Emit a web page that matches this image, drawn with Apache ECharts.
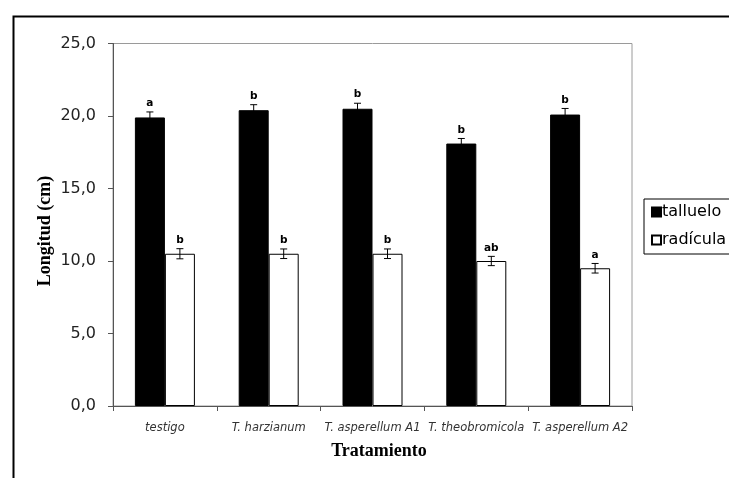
<!DOCTYPE html>
<html>
<head>
<meta charset="utf-8">
<script src="https://cdn.jsdelivr.net/npm/echarts@6/dist/echarts.min.js"></script>
<style>html,body{margin:0;padding:0;background:#fff;}#c{width:729px;height:478px;}</style>
</head>
<body>
<div id="c"></div>
<script>
var categories = ['testigo', 'T. harzianum', 'T. asperellum A1', 'T. theobromicola', 'T. asperellum A2'];
var tallueloValues = [19.9, 20.4, 20.5, 18.1, 20.1];
var tallueloErrors = [0.38, 0.38, 0.38, 0.35, 0.42];
var tallueloLetters = ['a', 'b', 'b', 'b', 'b'];
var radiculaValues = [10.5, 10.5, 10.5, 10.0, 9.5];
var radiculaErrors = [0.35, 0.33, 0.33, 0.32, 0.33];
var radiculaLetters = ['b', 'b', 'b', 'ab', 'a'];
var yTicks = [0, 5, 10, 15, 20, 25];

var SANS = 'DejaVu Sans';
var BAR_W = 30;

function errData(vals, errs, letters) {
  return vals.map(function (v, i) { return [i, v, errs[i], letters[i]]; });
}
function makeErr(offsetSign) {
  return function (params, api) {
    var i = api.value(0), v = api.value(1), e = api.value(2);
    var c = api.coord([i, v]);
    var x = c[0] + offsetSign * BAR_W / 2;
    var hi = api.coord([i, v + e])[1];
    var lo = api.coord([i, v - e])[1];
    var cap = 3.5;
    var st = { stroke: '#000', lineWidth: 1 };
    return {
      type: 'group',
      children: [
        { type: 'line', shape: { x1: x, y1: hi, x2: x, y2: lo }, style: st },
        { type: 'line', shape: { x1: x - cap, y1: hi, x2: x + cap, y2: hi }, style: st },
        { type: 'line', shape: { x1: x - cap, y1: lo, x2: x + cap, y2: lo }, style: st },
        { type: 'text', style: { x: x, y: hi - 3, text: api.value(3), textAlign: 'center', textVerticalAlign: 'bottom', font: 'bold 10.5px "DejaVu Sans"', fill: '#000' } }
      ]
    };
  };
}

var chart = echarts.init(document.getElementById('c'), null, { renderer: 'canvas' });
chart.setOption({
  animation: false,
  backgroundColor: '#fff',
  grid: { left: 113, right: 97, top: 43.5, bottom: 72, show: true, borderColor: '#9a9a9a', borderWidth: 1, backgroundColor: 'transparent' },
  legend: {
    orient: 'vertical', left: 644, top: 199,
    itemWidth: 9, itemHeight: 9, itemGap: 12,
    padding: [5, 40, 6, 7],
    borderColor: '#000', borderWidth: 1, borderRadius: 0,
    icon: 'rect',
    textStyle: { fontFamily: SANS, fontSize: 16, color: '#000', padding: [0, 0, 0, -4] },
    data: ['talluelo', 'radícula']
  },
  xAxis: {
    type: 'category', data: categories,
    axisLine: { lineStyle: { color: '#555', width: 1 } },
    axisTick: { show: true, length: 5, inside: false, lineStyle: { color: '#555' } },
    axisLabel: { fontFamily: SANS, fontStyle: 'italic', fontSize: 11.5, color: '#333', margin: 16, interval: 0 },
    splitLine: { show: false }
  },
  yAxis: {
    type: 'value', min: 0, max: 25, interval: 5,
    axisLine: { show: true, lineStyle: { color: '#555', width: 1 } },
    axisTick: { show: true, length: 5, lineStyle: { color: '#555' } },
    axisLabel: { fontFamily: SANS, fontSize: 16, color: '#222', margin: 17,
      formatter: function (v) { return yTicks.indexOf(v) >= 0 ? v.toFixed(1).replace('.', ',') : ''; } },
    splitLine: { show: false }
  },
  graphic: [
    { type: 'rect', left: 11, top: 14, shape: { x: 0, y: 0, width: 760, height: 500 }, style: { fill: 'none', stroke: '#000', lineWidth: 2 }, silent: true },
    { type: 'text', x: 45, y: 231, rotation: Math.PI / 2, style: { text: 'Longitud (cm)', font: 'bold 18px "Liberation Serif"', fill: '#000', textAlign: 'center', textVerticalAlign: 'middle' } },
    { type: 'text', x: 379, y: 451, style: { text: 'Tratamiento', font: 'bold 18px "Liberation Serif"', fill: '#000', textAlign: 'center', textVerticalAlign: 'middle' } }
  ],
  series: [
    { name: 'talluelo', type: 'bar', data: tallueloValues, barWidth: BAR_W, barGap: '0%',
      itemStyle: { color: '#000', borderColor: '#000', borderWidth: 1 } },
    { name: 'radícula', type: 'bar', data: radiculaValues, barWidth: BAR_W, barGap: '0%',
      itemStyle: { color: '#fff', borderColor: '#000', borderWidth: 1 } },
    { type: 'custom', data: errData(tallueloValues, tallueloErrors, tallueloLetters), renderItem: makeErr(-1), z: 10, silent: true },
    { type: 'custom', data: errData(radiculaValues, radiculaErrors, radiculaLetters), renderItem: makeErr(1), z: 10, silent: true }
  ]
});
</script>
</body>
</html>
